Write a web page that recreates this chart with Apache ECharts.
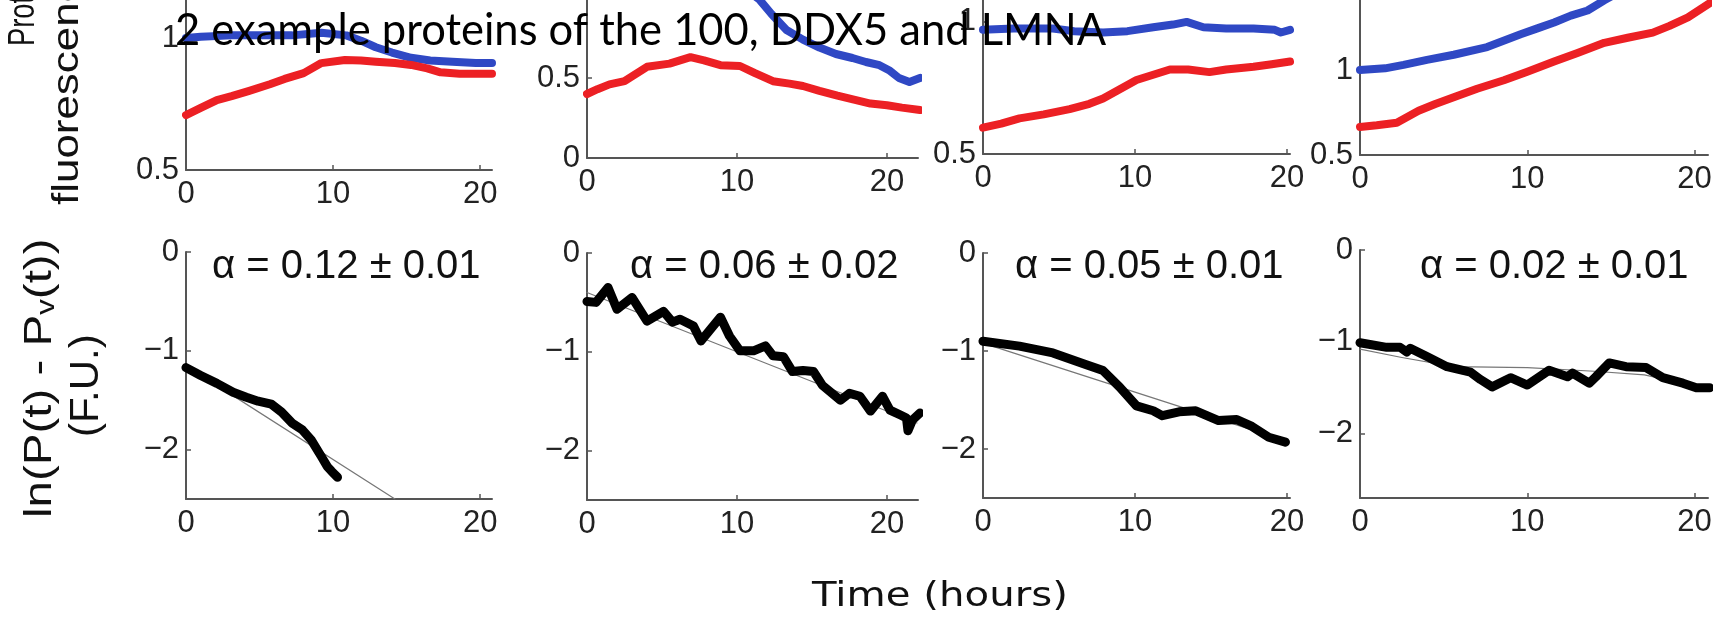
<!DOCTYPE html>
<html>
<head>
<meta charset="utf-8">
<script src="https://cdn.jsdelivr.net/npm/echarts@6/dist/echarts.min.js"></script>
<style>
  html, body { margin: 0; padding: 0; background: #fff; }
  #chart { width: 1728px; height: 622px; }
</style>
</head>
<body>
<div id="chart"></div>
<script>
// tick values shared by all panels
const xTicks = [0, 10, 20];
const topYTicks = [[0.5, 1], [0, 0.5], [0.5, 1], [0.5, 1]];
const bottomYTicks = [0, -1, -2];

const titleText = "2 example proteins of the 100, DDX5 and LMNA";
const xName = "Time (hours)";
const alphaLabels = ["α = 0.12 ± 0.01", "α = 0.06 ± 0.02", "α = 0.05 ± 0.01", "α = 0.02 ± 0.01"];

// top row: protein fluorescence, [hours, value]
const p1Blue = [[0, 1.0], [1, 1.005], [3.1, 1.01], [5.2, 1.01], [7.2, 1.01], [9.2, 1.02], [10.9, 1.01], [11.9, 0.99],
  [12.9, 0.965], [14, 0.945], [15.3, 0.925], [16.6, 0.915], [18.1, 0.91], [19.7, 0.905], [20.8, 0.905]];
const p1Red = [[0, 0.708], [1, 0.735], [2.1, 0.765], [3.1, 0.78], [4.3, 0.8], [5.7, 0.825], [6.7, 0.845], [8, 0.867],
  [9.2, 0.905], [10.8, 0.917], [11.9, 0.915], [12.9, 0.91], [14.2, 0.905], [15.3, 0.898], [16.4, 0.885],
  [17.3, 0.87], [18.6, 0.865], [20.8, 0.865]];

const p2Blue = [[10.5, 1.06], [11.5, 0.99], [12.3, 0.9], [13.3, 0.8], [14.4, 0.74], [15.5, 0.69], [16.6, 0.65],
  [17.7, 0.625], [18.6, 0.6], [19.5, 0.58], [20.2, 0.545], [20.8, 0.5], [21.5, 0.475], [22.2, 0.5]];
const p2Red = [[0, 0.4], [0.7, 0.43], [1.5, 0.46], [2.5, 0.48], [4, 0.57], [5.5, 0.59], [6.9, 0.63], [7.8, 0.61],
  [8.9, 0.58], [10.2, 0.575], [11.2, 0.53], [12.4, 0.48], [13.5, 0.465], [14.4, 0.45], [15.5, 0.42],
  [16.7, 0.39], [17.8, 0.365], [18.9, 0.34], [20, 0.33], [21, 0.315], [22.2, 0.3]];

const p3Blue = [[0, 0.97], [2, 0.975], [4.6, 0.975], [6, 0.965], [7.9, 0.96], [9.5, 0.965], [11.2, 0.98],
  [12.5, 0.99], [13.4, 1.0], [14.5, 0.98], [16, 0.975], [17.8, 0.975], [19.2, 0.97], [19.6, 0.96], [20.2, 0.97]];
const p3Red = [[0, 0.6], [1.2, 0.615], [2.4, 0.635], [4, 0.65], [5.7, 0.67], [7, 0.69], [7.9, 0.71], [9, 0.745],
  [10.1, 0.78], [11.2, 0.8], [12.3, 0.82], [13.5, 0.82], [14.9, 0.81], [16, 0.82], [17.8, 0.83], [19, 0.84], [20.2, 0.85]];

const p4Blue = [[0, 1.0], [1.5, 1.01], [2.6, 1.03], [4, 1.06], [5.6, 1.09], [7.6, 1.135], [9.6, 1.21], [10.6, 1.245],
  [11.6, 1.28], [12.6, 1.32], [13.6, 1.35], [14.6, 1.41], [15.5, 1.46]];
const p4Red = [[0, 0.665], [1, 0.675], [2.2, 0.69], [3.5, 0.76], [4.5, 0.8], [5.6, 0.84], [7, 0.89], [8.6, 0.94],
  [10, 0.99], [11.6, 1.05], [13, 1.1], [14.6, 1.16], [16, 1.19], [17.5, 1.22], [18.5, 1.26], [19.6, 1.31], [21, 1.4]];

// bottom row: ln(P(t) - Pv(t)), measured and fitted
const p1Log = [[0, -1.17], [1, -1.25], [2.1, -1.33], [3.2, -1.42], [4.1, -1.47], [4.9, -1.51], [5.8, -1.54], [6.5, -1.62],
  [7.2, -1.73], [7.9, -1.8], [8.5, -1.9], [9.2, -2.07], [9.6, -2.17], [9.9, -2.22], [10.3, -2.28]];
const p1Fit = [[0, -1.15], [14.2, -2.5]];

const p2Log = [[0, -0.49], [0.6, -0.5], [1.4, -0.35], [2, -0.57], [3, -0.45], [4, -0.69], [5.1, -0.59], [5.7, -0.7],
  [6.2, -0.67], [7.1, -0.74], [7.6, -0.89], [8.9, -0.65], [9.5, -0.84], [10.2, -0.99], [11.1, -0.99], [11.9, -0.94],
  [12.4, -1.04], [13.1, -1.05], [13.7, -1.2], [14.4, -1.19], [15.1, -1.2], [15.7, -1.34], [16.9, -1.49], [17.5, -1.42],
  [18.2, -1.45], [18.9, -1.6], [19.7, -1.45], [20.2, -1.59], [20.9, -1.64], [21.3, -1.67], [21.4, -1.8], [21.7, -1.69], [22.2, -1.62]];
const p2Fit = [[0, -0.4], [22, -1.72]];

const p3Log = [[0, -0.9], [2.4, -0.95], [4.6, -1.02], [6.8, -1.14], [7.9, -1.2], [9, -1.37], [10.1, -1.56], [11.2, -1.61],
  [11.8, -1.66], [12.9, -1.62], [14, -1.61], [15.5, -1.71], [16.7, -1.7], [17.7, -1.77], [18.8, -1.88], [19.9, -1.93]];
const p3Fit = [[0, -0.92], [20, -1.92]];

const p4Log = [[0, -1.01], [1.6, -1.06], [2.4, -1.06], [2.8, -1.11], [3, -1.07], [4, -1.16], [5.2, -1.27], [6.6, -1.33],
  [7.2, -1.41], [7.9, -1.49], [9, -1.39], [10, -1.47], [11.3, -1.31], [12.4, -1.38], [12.7, -1.34], [13.7, -1.45],
  [14.1, -1.38], [14.9, -1.23], [15.9, -1.27], [17.1, -1.28], [18.1, -1.39], [19.3, -1.45], [20.1, -1.5], [20.9, -1.5]];
const p4Fit = [[0, -1.08], [2.5, -1.17], [5.6, -1.27], [10, -1.28], [14, -1.32], [17, -1.36], [21, -1.52]];

const BLUE = "#2f48c4";
const RED = "#ec2024";
const AXIS = "#555";
const LABEL = "#222";
const NARROW = "'Liberation Sans Narrow', 'Liberation Sans', Arial, sans-serif";
const SANS = "'Liberation Sans', Arial, sans-serif";

// panel frames: [left, top, width, height], axis ranges
const frames = [
  [186, 0, 306, 170], [587, 0, 331, 158], [983, 0, 307, 154], [1360, 0, 348, 155],
  [186, 252, 306, 247], [587, 253, 331, 247], [983, 253, 307, 245], [1360, 250, 348, 248],
];
const xMax = [20.8, 22.07, 20.2, 20.8, 20.8, 22.07, 20.2, 20.8];
const yRange = [[0.5, 1.144], [0, 0.9875], [0.5, 1.083], [0.5, 1.412], [-2.5, 0], [-2.5, 0], [-2.5, 0], [-2.7, 0]];

const chart = echarts.init(document.getElementById("chart"), null, { renderer: "canvas" });

const grids = frames.map(([left, top, width, height]) => ({ left, top, width, height, containLabel: false }));

const axisLine = { show: true, onZero: false, lineStyle: { color: AXIS, width: 2 } };
const minus = (v) => String(v).replace("-", "\u2212");

const xAxes = frames.map((f, i) => ({
  type: "value", gridIndex: i, min: 0, max: xMax[i],
  axisLine,
  axisTick: { show: true, inside: true, length: 5, customValues: xTicks, lineStyle: { color: AXIS, width: 1.5 } },
  axisLabel: { customValues: xTicks, color: LABEL, fontSize: 31, fontFamily: NARROW, margin: 9 },
  splitLine: { show: false },
}));

const yAxes = frames.map((f, i) => {
  const ticks = i < 4 ? topYTicks[i] : bottomYTicks;
  return {
    type: "value", gridIndex: i, min: yRange[i][0], max: yRange[i][1],
    axisLine,
    axisTick: { show: true, inside: true, length: 5, customValues: ticks, lineStyle: { color: AXIS, width: 1.5 } },
    axisLabel: { customValues: ticks, formatter: minus, color: LABEL, fontSize: 31, fontFamily: NARROW, margin: 7 },
    splitLine: { show: false },
  };
});

function trace(data, idx, color, width, z) {
  return {
    type: "line", data, xAxisIndex: idx, yAxisIndex: idx,
    showSymbol: false, silent: true, clip: true, z,
    lineStyle: { color, width, cap: "round", join: "round" },
  };
}

const series = [
  trace(p1Blue, 0, BLUE, 8, 2), trace(p1Red, 0, RED, 8, 3),
  trace(p2Blue, 1, BLUE, 8, 2), trace(p2Red, 1, RED, 8, 3),
  trace(p3Blue, 2, BLUE, 8, 2), trace(p3Red, 2, RED, 8, 3),
  trace(p4Blue, 3, BLUE, 8, 2), trace(p4Red, 3, RED, 8, 3),
  trace(p1Fit, 4, "#777", 1.2, 2), trace(p1Log, 4, "#000", 9, 3),
  trace(p2Fit, 5, "#777", 1.2, 2), trace(p2Log, 5, "#000", 9, 3),
  trace(p3Fit, 6, "#777", 1.2, 2), trace(p3Log, 6, "#000", 9, 3),
  trace(p4Fit, 7, "#777", 1.2, 2), trace(p4Log, 7, "#000", 9, 3),
];

const alphaLeft = [212, 630, 1015, 1420];

const titles = [
  { text: titleText, left: 175, top: 9, padding: 0, z: 10,
    textStyle: { fontFamily: "Lato, 'Liberation Sans', sans-serif", fontWeight: "normal", fontSize: 43.5, color: "#000" } },
  ...alphaLabels.map((t, i) => ({
    text: t, left: alphaLeft[i], top: 247, padding: 0,
    textStyle: { fontFamily: SANS, fontWeight: "normal", fontSize: 40, color: "#111" },
  })),
];

// rotated y-axis names (cropped in the source figure) and the shared x-axis name
const sideText = (text, x, y, size, stretch, extra) => ({
  type: "text", x, y, rotation: Math.PI / 2, scaleX: stretch, silent: true,
  style: Object.assign({ text, fill: "#111", font: size + "px " + SANS,
    align: "left", verticalAlign: "bottom" }, extra || {}),
});

chart.setOption({
  animation: false,
  backgroundColor: "#fff",
  title: titles,
  grid: grids,
  xAxis: xAxes,
  yAxis: yAxes,
  series,
  graphic: [
    sideText("Protein", 42, 46, 36, 0.76),
    sideText("fluorescence", 86, 205, 36, 1.22),
    sideText("ln(P(t) - P{sub|v}(t))", 60, 518, 38, 1.25, {
      rich: { sub: { fontSize: 25, fontFamily: SANS, fill: "#111", verticalAlign: "bottom" } },
    }),
    sideText("(F.U.)", 107, 437, 40, 1.05),
    {
      type: "text", x: 812, y: 597, scaleX: 1.22, silent: true,
      style: { text: xName, fill: "#111", font: "33px 'DejaVu Sans', sans-serif", align: "left", verticalAlign: "middle" },
    },
  ],
});
</script>
</body>
</html>
